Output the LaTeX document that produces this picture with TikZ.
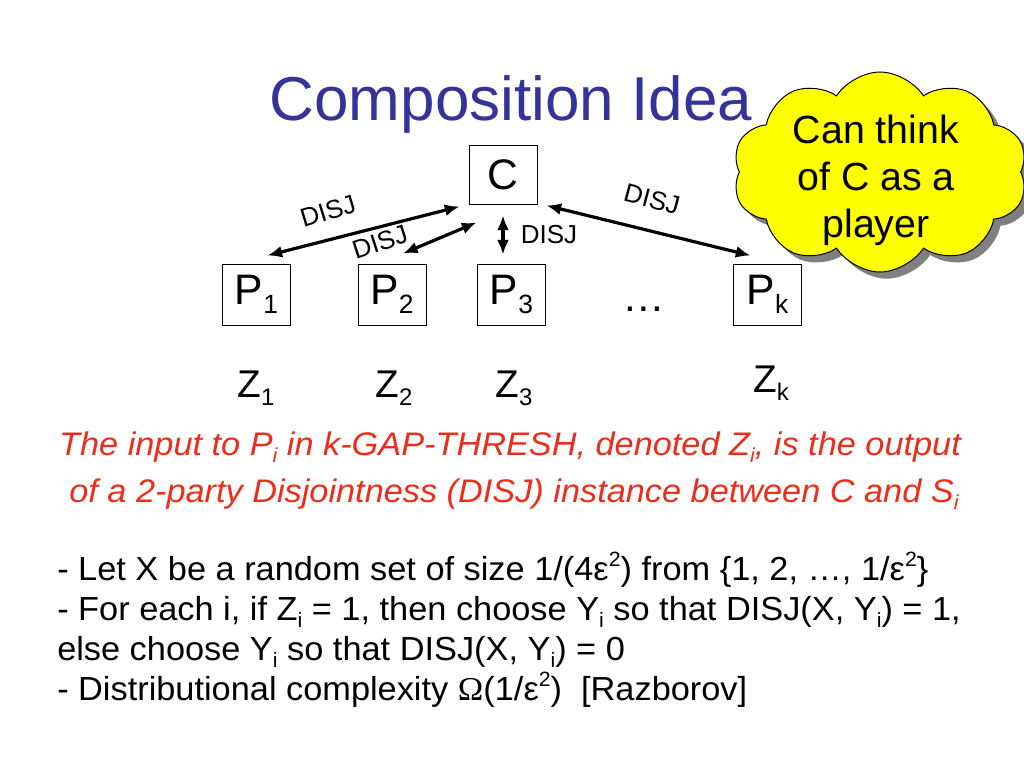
\documentclass[tikz,border=0pt]{standalone}
\usepackage{fontspec}
\setmainfont{Liberation Sans}
\newfontfamily\bodyfont[FakeStretch=1.05]{Liberation Sans}
\newfontfamily\itemfont[FakeStretch=1.03]{Liberation Sans}
\newfontfamily\symfont[FakeStretch=1.03]{Liberation Serif}
\usepackage{graphicx}
\usetikzlibrary{arrows.meta,shapes.symbols,shadows}
\definecolor{titleblue}{RGB}{51,51,153}
\definecolor{notered}{RGB}{235,45,25}
\definecolor{cloudyellow}{RGB}{255,255,0}
\newcommand\dn[1]{\raisebox{-0.22em}{\scalebox{0.62}{#1}}}
\newcommand\up[1]{\raisebox{0.42em}{\scalebox{0.62}{#1}}}
\begin{document}
\begin{tikzpicture}[x=0.75pt,y=-0.75pt,
  box/.style={draw, line width=0.75pt, minimum width=51pt, minimum height=45.75pt, inner sep=0pt, font=\fontsize{32}{36}\selectfont},
  biarrow/.style={line width=2.4pt, {Latex[length=11pt,width=9pt]}-{Latex[length=11pt,width=9pt]}},
  lbl/.style={font=\fontsize{19.5}{22}\selectfont, inner sep=0pt},
  zlbl/.style={anchor=base, font=\fontsize{29}{34}\selectfont, inner sep=0pt},
  note/.style={anchor=base, text=notered, font=\bodyfont\fontsize{24.5}{28}\selectfont\itshape, inner sep=0pt},
  item/.style={anchor=base west, font=\itemfont\fontsize{25}{28}\selectfont, inner sep=0pt},
  cloudtext/.style={anchor=base, font=\fontsize{29.5}{35}\selectfont, inner sep=0pt},
]
\useasboundingbox (0,0) rectangle (1024,768);
\fill[white] (0,0) rectangle (1024,768);

% title
\node[anchor=base, text=titleblue, font=\fontsize{46.5}{50}\selectfont, inner sep=0pt] (title) at (511,120) {Composition Idea};

% cloud
\node[cloud, cloud puffs=10, cloud puff arc=115, aspect=1.47, minimum width=221pt, minimum height=150pt,
      draw, line width=0.75pt, fill=cloudyellow,
      drop shadow={shadow xshift=5pt, shadow yshift=-5pt, fill=gray, opacity=1}] (cloud) at (880,172) {};
\node[cloudtext] (cl1) at (876,143) {Can think};
\node[cloudtext] (cl2) at (876,190) {of C as a};
\node[cloudtext] (cl3) at (876,237) {player};

% boxes
\node[box, minimum height=44.25pt] (C) at (503,174.5) {C};
\node[box] (P1) at (256.5,294.5) {P\dn{1}};
\node[box] (P2) at (392,294.5) {P\dn{2}};
\node[box] (P3) at (511.5,294.5) {P\dn{3}};
\node[box] (Pk) at (767.5,294.5) {P\dn{k}};
\node[anchor=base, font=\fontsize{32}{36}\selectfont, inner sep=0pt] (dots) at (644,311) {…};

% arrows
\draw[biarrow] ([shift={(-9,2)}]C.south west) -- ([shift={(11,-8)}]P1.north);
\draw[biarrow] ([shift={(8,18)}]C.south west) -- ([shift={(11,-10)}]P2.north);
\draw[biarrow] ([shift={(0,11)}]C.south) -- ([shift={(-8.5,-9)}]P3.north);
\draw[biarrow] ([shift={(9,1)}]C.south east) -- ([shift={(-17,-8)}]Pk.north);

% DISJ labels
\node[lbl, rotate=17] (d1) at (328,211) {DISJ};
\node[lbl, rotate=18] (d2) at (380,242) {DISJ};
\node[lbl] (d3) at (549,235) {DISJ};
\node[lbl, rotate=-15] (d4) at (652,199) {DISJ};

% Z labels
\node[zlbl] (Z1) at (256,397) {Z\dn{1}};
\node[zlbl] (Z2) at (394,397) {Z\dn{2}};
\node[zlbl] (Z3) at (514,397) {Z\dn{3}};
\node[zlbl] (Zk) at (771,392) {Z\dn{k}};

% red note
\node[note] (n1) at (510,455) {The input to P\dn{i} in k-GAP-THRESH, denoted Z\dn{i}, is the output};
\node[note] (n2) at (514,502) {of a 2-party Disjointness (DISJ) instance between C and S\dn{i}};

% bullets
\node[item] (b1) at (57,580) {- Let X be a random set of size 1/(4ε\up{2}) from \{1, 2, …, 1/ε\up{2}\}};
\node[item] (b2) at (57,620) {- For each i, if Z\dn{i} = 1, then choose Y\dn{i} so that DISJ(X, Y\dn{i}) = 1,};
\node[item] (b3) at (57,660) {else choose Y\dn{i} so that DISJ(X, Y\dn{i}) = 0};
\node[item] (b4) at (57,700) {- Distributional complexity {\symfont Ω}(1/ε\up{2})\ \ [Razborov]};
\end{tikzpicture}
\end{document}
